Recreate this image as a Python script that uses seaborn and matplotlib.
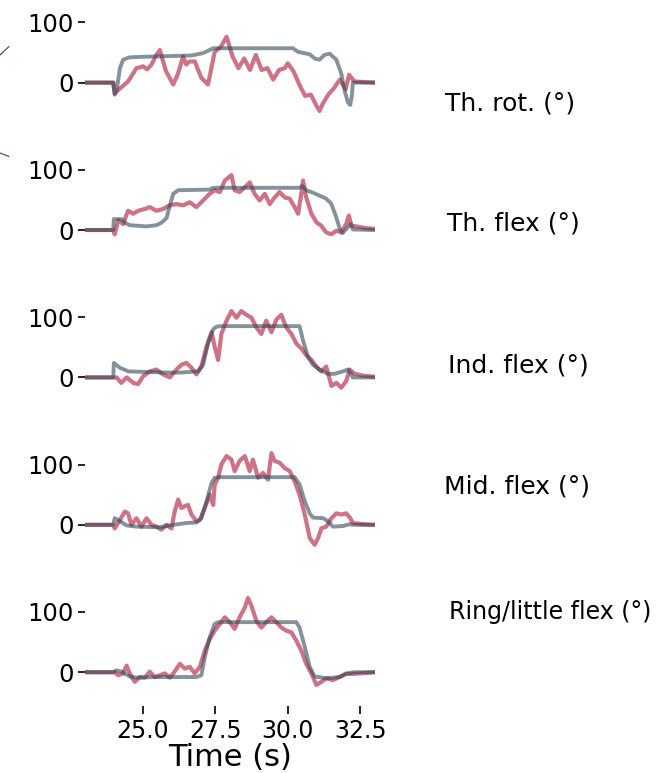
import numpy as np
import pandas as pd
import seaborn as sns
import matplotlib.pyplot as plt
from matplotlib.lines import Line2D

joint_names = ["Th. rot. (°)", "Th. flex (°)", "Ind. flex (°)", "Mid. flex (°)", "Ring/little flex (°)"]

# grey = measured joint angle, red = decoded joint angle
th_rot_true_t = [23.0, 23.98, 24.03, 24.1, 24.21, 24.32, 24.55, 25.13, 26.68, 27.08, 27.43, 30.18, 30.36, 30.76,
                 30.93, 31.1, 31.27, 31.45, 31.68, 31.85, 31.97, 32.08, 32.16, 32.22, 32.25, 33.0]
th_rot_true = [0, 0, -20, -12, 24, 38, 42, 43, 45, 49, 57, 57, 51, 47,
               40, 38, 46, 48, 38, 15, -14, -33, -37, -20, 0, 0]
th_rot_pred_t = [23.0, 23.98, 24.03, 24.2, 24.35, 24.49, 24.65, 24.78, 25.01, 25.15, 25.3, 25.47, 25.59, 25.7, 25.8,
                 26.05, 26.2, 26.39, 26.5, 26.6, 26.8, 26.9, 27.02, 27.25, 27.48, 27.7, 27.89, 28.1, 28.3, 28.5,
                 28.7, 28.9, 29.1, 29.3, 29.5, 29.7, 29.9, 30.0, 30.2, 30.4, 30.6, 30.8, 31.0, 31.1, 31.2, 31.4,
                 31.6, 31.8, 32.0, 32.12, 32.3, 32.6, 33.0]
th_rot_pred = [0, 0, -18, -10, -4, 2, 14, 24, 27, 22, 30, 46, 54, 35, 19,
               -3, 13, 43, 30, 35, 35, 22, 8, -3, 51, 60, 76, 43, 24, 40,
               21, 46, 21, 24, 5, 21, 24, 32, 19, -3, -22, -20, -39, -47, -36, -20,
               -9, 5, -11, 13, 2, 1, 0]

th_flex_true_t = [23.0, 23.98, 24.0, 24.26, 24.38, 24.55, 25.13, 25.47, 25.64, 25.82, 25.93, 26.05, 26.22, 27.31,
                  27.43, 30.41, 30.5, 30.64, 30.87, 31.33, 31.5, 31.65, 31.8, 31.9, 32.05, 32.18, 32.25, 33.0]
th_flex_true = [0, 0, 18, 18, 12, 8, 6, 8, 12, 20, 40, 60, 66, 67,
                70, 70, 73, 66, 62, 52, 44, 25, 2, -5, 3, 10, 1, 0]
th_flex_pred_t = [23.0, 23.98, 24.03, 24.15, 24.32, 24.49, 24.67, 24.84, 25.07, 25.24, 25.47, 25.7, 25.93, 26.16,
                  26.39, 26.62, 26.85, 27.08, 27.31, 27.48, 27.66, 27.83, 28.06, 28.17, 28.34, 28.52, 28.69, 28.86,
                  29.03, 29.21, 29.38, 29.55, 29.72, 29.9, 30.07, 30.24, 30.36, 30.47, 30.53, 30.64, 30.82, 30.99,
                  31.16, 31.33, 31.51, 31.68, 31.85, 32.02, 32.11, 32.2, 32.37, 32.71, 33.0]
th_flex_pred = [0, 0, -7, 16, 10, 32, 27, 32, 35, 38, 32, 35, 41, 43,
                41, 46, 38, 49, 60, 66, 63, 82, 91, 66, 63, 71, 79, 60,
                49, 60, 43, 54, 63, 54, 52, 38, 27, 60, 82, 54, 27, 13,
                7, -4, -7, -1, -4, 10, 24, 7, 6, 3, 2]

ind_flex_true_t = [23.0, 23.98, 24.0, 24.21, 24.5, 25.13, 25.93, 26.28, 26.91, 27.08, 27.25, 27.43, 27.54, 27.7,
                   30.41, 30.53, 30.7, 30.87, 31.1, 31.39, 31.62, 31.91, 32.08, 32.2, 32.25, 33.0]
ind_flex_true = [0, 0, 24, 16, 10, 9, 8, 8, 10, 21, 56, 80, 84, 85,
                 85, 61, 34, 21, 13, 6, 6, 10, 13, 5, 0, 0]
ind_flex_pred_t = [23.0, 23.98, 24.09, 24.26, 24.44, 24.67, 24.84, 25.01, 25.24, 25.47, 25.7, 25.93, 26.16, 26.33,
                   26.51, 26.68, 26.85, 27.02, 27.2, 27.37, 27.48, 27.6, 27.71, 27.89, 28.06, 28.23, 28.4, 28.57,
                   28.75, 28.92, 29.09, 29.26, 29.44, 29.61, 29.78, 29.95, 30.13, 30.3, 30.47, 30.64, 30.82, 30.99,
                   31.16, 31.33, 31.51, 31.68, 31.85, 32.02, 32.14, 32.31, 32.6, 33.0]
ind_flex_pred = [0, 0, 0, -9, 0, -9, -11, 2, 10, 13, 5, 0, 13, 21,
                 24, 16, 5, 18, 51, 75, 51, 29, 72, 94, 110, 99, 110, 104,
                 99, 83, 72, 94, 75, 96, 104, 83, 72, 56, 48, 37, 29, 18,
                 10, 18, -14, -9, -17, -6, 13, 6, 3, 1]

mid_flex_true_t = [23.0, 23.98, 24.03, 24.21, 24.44, 24.78, 25.59, 26.05, 26.51, 26.85, 27.02, 27.2, 27.37, 27.48,
                   27.66, 30.24, 30.41, 30.59, 30.76, 30.87, 31.22, 31.39, 31.56, 31.91, 32.14, 32.25, 33.0]
mid_flex_true = [0, 0, 11, 6, -1, -3, -4, 0, 3, 4, 11, 39, 69, 78,
                 79, 79, 67, 39, 19, 12, 11, 6, -3, -2, 1, 0, 0]
mid_flex_pred_t = [23.0, 23.98, 24.03, 24.21, 24.38, 24.49, 24.61, 24.78, 24.95, 25.13, 25.3, 25.47, 25.64, 25.82,
                   25.99, 26.1, 26.22, 26.33, 26.45, 26.56, 26.68, 26.85, 26.97, 27.14, 27.31, 27.43, 27.48, 27.6,
                   27.71, 27.89, 28.06, 28.17, 28.34, 28.52, 28.69, 28.8, 28.98, 29.15, 29.32, 29.44, 29.55, 29.72,
                   29.9, 30.07, 30.24, 30.41, 30.59, 30.76, 30.93, 31.05, 31.16, 31.33, 31.51, 31.68, 31.85, 32.02,
                   32.16, 32.25, 32.6, 33.0]
mid_flex_pred = [0, 0, -6, 8, 22, 19, 0, 11, -3, 11, 0, -3, -8, 0,
                 -6, 22, 42, 28, 31, 33, 17, 6, 8, 28, 50, 33, 67, 78,
                 100, 114, 108, 89, 106, 114, 89, 108, 78, 86, 75, 119, 106, 103,
                 94, 89, 72, 50, 17, -22, -33, -22, -6, -3, 11, 19, 17, 19,
                 11, 3, 1, 0]

ring_flex_true_t = [23.0, 23.98, 24.09, 24.26, 24.55, 24.78, 25.5, 26.85, 27.02, 27.14, 27.31, 27.48, 27.6, 30.3,
                    30.41, 30.59, 30.76, 30.93, 31.33, 31.79, 32.02, 32.25, 33.0]
ring_flex_true = [0, 0, 3, 1, -7, -9, -8, -8, -5, 25, 58, 80, 83, 83,
                  74, 42, 9, -7, -10, -8, -3, 0, 0]
ring_flex_pred_t = [23.0, 23.98, 24.03, 24.15, 24.32, 24.44, 24.55, 24.72, 24.9, 25.07, 25.24, 25.41, 25.59, 25.76,
                    25.93, 26.1, 26.28, 26.45, 26.62, 26.79, 26.97, 27.14, 27.31, 27.48, 27.66, 27.83, 28.0, 28.17,
                    28.34, 28.52, 28.63, 28.75, 28.92, 29.09, 29.26, 29.44, 29.61, 29.78, 29.95, 30.13, 30.3, 30.47,
                    30.64, 30.82, 30.99, 31.16, 31.33, 31.56, 31.79, 32.02, 32.2, 32.48, 33.0]
ring_flex_pred = [0, 0, 0, -5, -2, 11, -2, -16, -8, -9, 1, -8, -5, -2,
                  -9, 1, 14, 6, 9, -2, 9, 36, 55, 69, 80, 91, 83, 72,
                  91, 107, 123, 110, 85, 74, 83, 91, 83, 74, 69, 66, 52, 36,
                  14, -2, -21, -16, -10, -13, -8, -2, -3, -2, 0]

panels = [
    (th_rot_true_t, th_rot_true, th_rot_pred_t, th_rot_pred),
    (th_flex_true_t, th_flex_true, th_flex_pred_t, th_flex_pred),
    (ind_flex_true_t, ind_flex_true, ind_flex_pred_t, ind_flex_pred),
    (mid_flex_true_t, mid_flex_true, mid_flex_pred_t, mid_flex_pred),
    (ring_flex_true_t, ring_flex_true, ring_flex_pred_t, ring_flex_pred),
]

sns.set_theme(style="ticks")
plt.rcParams['font.family'] = ['DejaVu Sans']
plt.rcParams['text.color'] = 'black'
plt.rcParams['xtick.color'] = 'black'
plt.rcParams['ytick.color'] = 'black'
plt.rcParams['axes.labelcolor'] = 'black'

fig, axes = plt.subplots(5, 1, figsize=(6.63, 7.73), dpi=100, sharex=True, sharey=True)
fig.subplots_adjust(left=0.128, right=0.565, top=0.9961, bottom=0.0867, hspace=0.30)

red = "#b8304c"
grey = "#34495b"
label_x = [445, 447, 448, 444, 449]
label_y = [104, 224, 366, 487, 612]
label_size = [18, 18, 18, 18, 17]

for i, (ax, (tt, yt, tp, yp)) in enumerate(zip(axes, panels)):
    sns.lineplot(x=tp, y=yp, ax=ax, color=red, alpha=0.68, linewidth=3.0)
    sns.lineplot(x=tt, y=yt, ax=ax, color=grey, alpha=0.6, linewidth=2.8)
    ax.set_xlim(23, 33)
    ax.set_ylim(-56, 132)
    ax.set_yticks([0, 100])
    ax.tick_params(axis="y", labelsize=17.5, length=5, width=1.2, pad=3)
    ax.tick_params(axis="x", labelsize=17, length=6, width=1.2)
    ax.set_ylabel("")
    fig.text(label_x[i] / 663, 1 - label_y[i] / 773, joint_names[i], fontsize=label_size[i],
             ha="left", va="center")
    if i < 4:
        ax.tick_params(axis="x", bottom=False, labelbottom=False)

sns.despine(fig=fig, left=True, bottom=True)
axes[-1].set_xticks([25.0, 27.5, 30.0, 32.5])
axes[-1].set_xlabel("Time (s)", fontsize=22, labelpad=0)

# stray line bits at the left edge
fig.add_artist(Line2D([0, 9 / 663], [1 - 55 / 773, 1 - 46.5 / 773], color="#2f4656", lw=0.8))
fig.add_artist(Line2D([0, 9 / 663], [1 - 153 / 773, 1 - 156.5 / 773], color="#2f4656", lw=0.8))

fig.savefig("out.png", dpi=100)
